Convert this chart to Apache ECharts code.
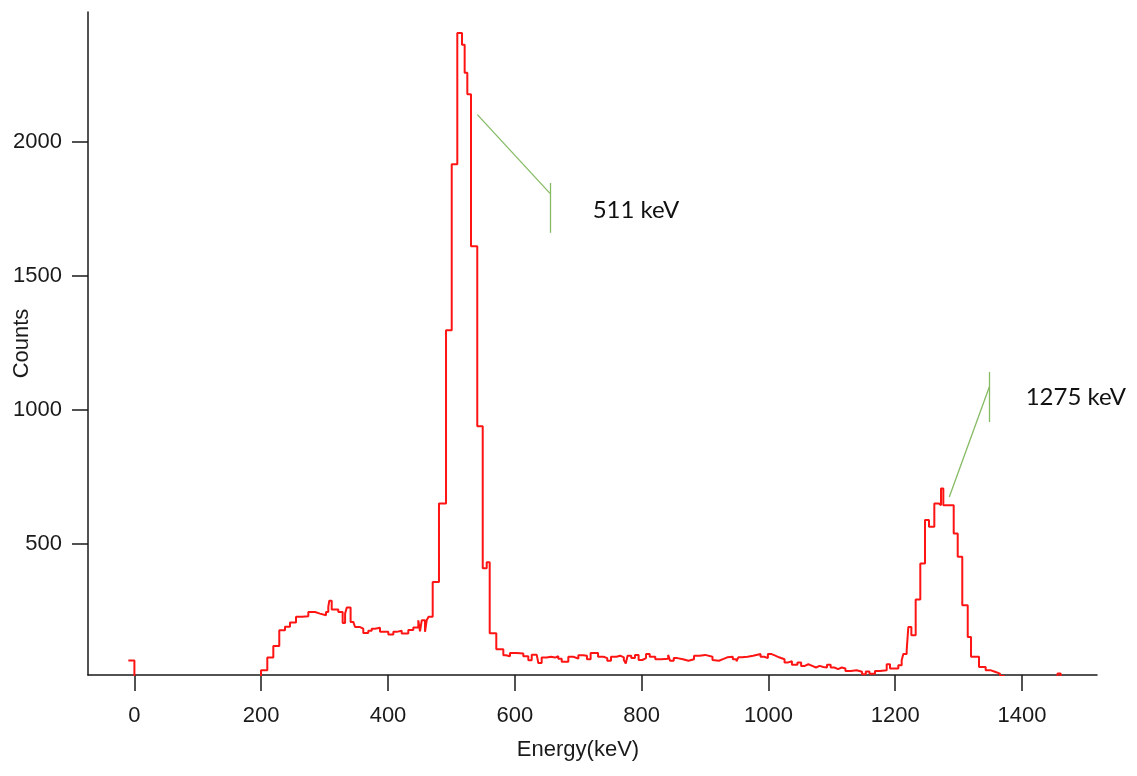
<!DOCTYPE html>
<html><head><meta charset="utf-8">
<script src="https://cdn.jsdelivr.net/npm/echarts@6/dist/echarts.min.js"></script>
<style>html,body{margin:0;padding:0;background:#fff}#c{width:1137px;height:776px}</style>
</head><body><div id="c"></div>
<script>
// Histogram bin left edges (keV) and counts
const energies = [-9.6,0,199.7,209.6,219.1,228.5,237.5,245.4,254.9,264.4,274.3,284.9,287.5,292.7,295.4,302.2,305.8,307.4,311.2,321.6,328.5,332.3,335,341,345.3,348,355.9,361,368.9,374.3,379.5,387.4,400.5,408.4,413.7,416.2,421.6,432,439.9,447.8,450.5,453.2,458.4,461,464,470.5,480.4,491.5,500.5,509.3,516.7,520.9,525.1,530.9,540.8,549.4,555.7,560.4,570.8,581.9,586.1,592.4,603,613.4,621.3,626.7,634.5,637.1,642.4,650.3,657,663.4,668.6,674,684.4,692.3,700.2,708,713.8,719.6,731.3,740,745.8,751.7,760.4,766.2,772,775,777.9,783.7,789.5,795.3,801.2,807,812.8,821.6,831,841.9,844.9,850.7,856.5,865.2,874,882.7,891.5,900.2,911.8,914.8,922,929.3,935.1,943.9,949.7,952.6,958.4,967.2,975.9,987.6,993.4,999.2,1005,1010.9,1016.7,1025.4,1031.3,1037.1,1045.8,1051.6,1057.5,1063,1069.1,1075,1080.8,1086.6,1092.4,1098.2,1104.1,1109.9,1115.7,1121.5,1130,1139,1147.8,1153.6,1159.4,1168.1,1176,1186.6,1191.8,1204.9,1210.2,1212.8,1218.1,1220.7,1225.5,1232.3,1239.6,1247,1253.3,1261.7,1269,1272.2,1275.9,1292.3,1298.6,1305.8,1314.4,1319.6,1332.2,1342.7,1350,1357.4,1365.3,1372,1456,1461,1470];
const counts = [66,0,30,77,120,179,192,208,229,231,247,254,241,247,235,247,266,289,256,247,206,241,264,210,204,191,185,169,177,185,188,173,163,173,167,177,167,180,189,216,175,216,173,216,229,359,652,1298,1918,2408,2364,2259,2179,1612,940,410,433,168,108,86,82,94,92,82,67,88,86,57,77,80,77,82,73,61,80,73,86,84,71,94,80,75,65,80,84,78,68,55,84,75,87,68,75,90,80,71,73,87,65,75,71,65,71,84,87,80,68,65,72,78,80,71,63,78,80,84,90,80,75,90,84,78,71,59,63,50,59,46,52,46,40,46,42,40,50,40,34,40,36,27,30,24,15,25,17,27,30,52,36,48,67,90,104,191,160,294,428,590,565,652,645,708,645,540,453,272,154,80,42,30,24,17,8,0,18,0,0];
const xTicks = [0,200,400,600,800,1000,1200,1400];
const yTicks = [500,1000,1500,2000];
const xTitle = 'Energy(keV)';
const yTitle = 'Counts';
// Peak annotations (data coordinates)
const peakLabels = ['511 keV', '1275 keV'];
const labelAt = [[791,1746],[1485,1049]];
const leaders = [
  [[540.9,2103],[655.5,1809]],
  [[656.6,1848],[656.6,1662]],
  [[1285.3,676],[1348.4,1087]],
  [[1348.4,1143],[1348.4,956]]
];

const data = energies.map((e,i)=>[e,counts[i]]);
const chart = echarts.init(document.getElementById('c'), null, {renderer:'canvas'});
const axisColor = '#1a1a1a';
const plain = v => String(v);
chart.setOption({
  animation:false,
  backgroundColor:'#ffffff',
  grid:{left:88,right:40,top:12,bottom:101,containLabel:false,outerBoundsMode:'none'},
  xAxis:{
    type:'value', min:-73.2, max:1518.3,
    splitLine:{show:false},
    axisLine:{onZero:false,lineStyle:{color:axisColor,width:1.5}},
    axisTick:{show:true,length:16,inside:false,customValues:xTicks,lineStyle:{color:axisColor,width:1.5}},
    axisLabel:{customValues:xTicks,formatter:plain,margin:30,color:'#1a1a1a',fontFamily:'Liberation Sans',fontSize:22},
    name:xTitle, nameLocation:'middle', nameGap:64, nameMoveOverlap:false,
    nameTextStyle:{color:'#1a1a1a',fontFamily:'Liberation Sans',fontSize:22,padding:[0,29,0,0]}
  },
  yAxis:{
    type:'value', min:12, max:2486,
    splitLine:{show:false},
    axisLine:{show:true,onZero:false,lineStyle:{color:axisColor,width:1.5}},
    axisTick:{show:true,length:16,inside:false,customValues:yTicks,lineStyle:{color:axisColor,width:1.5}},
    axisLabel:{customValues:yTicks,formatter:plain,margin:26,color:'#1a1a1a',fontFamily:'Liberation Sans',fontSize:22},
    name:yTitle, nameLocation:'middle', nameGap:55, nameRotate:90, nameMoveOverlap:false,
    nameTextStyle:{color:'#1a1a1a',fontFamily:'Liberation Sans',fontSize:22}
  },
  series:[{
    type:'line', step:'end', data:data, symbol:'none', clip:true,
    lineStyle:{color:'#ff1414',width:2},
    markLine:{
      silent:true, symbol:['none','none'], animation:false,
      lineStyle:{color:'#86bb64',width:1.3,type:'solid'},
      label:{show:false},
      data: leaders.map(s=>[{coord:s[0]},{coord:s[1]}])
    },
    markPoint:{
      silent:true, symbol:'circle', symbolSize:0, animation:false,
      label:{show:true,position:'inside',formatter:p=>p.name,color:'#111',fontFamily:'Lato',fontSize:24},
      data: peakLabels.map((t,i)=>({name:t,coord:labelAt[i]}))
    }
  }]
});
</script></body></html>
